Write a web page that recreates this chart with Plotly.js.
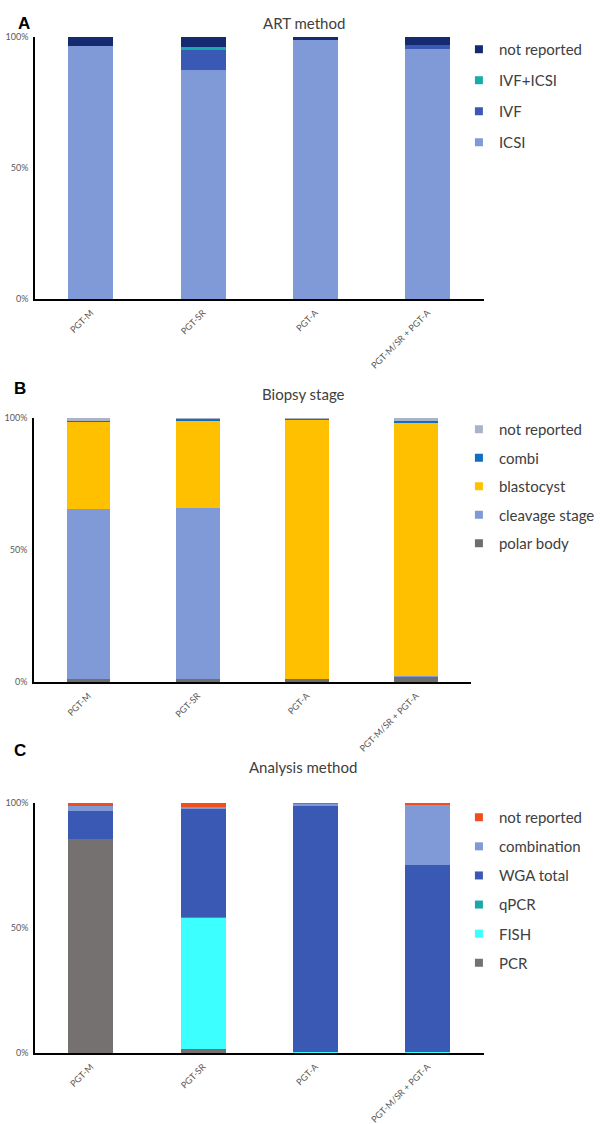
<!DOCTYPE html>
<html>
<head>
<meta charset="utf-8">
<script src="https://cdn.plot.ly/plotly-3.0.1.min.js"></script>
<style>
  html, body { margin: 0; padding: 0; background: #fff; }
  #chart { width: 600px; height: 1124px; }
</style>
</head>
<body>
<div id="chart"></div>
<script>
// ---------- DATA ----------
const categories = ['PGT-M', 'PGT-SR', 'PGT-A', 'PGT-M/SR + PGT-A'];

// Panel A: ART method (%)
const artICSI        = [96.6, 87.4, 98.8, 95.4];
const artIVF         = [0.0, 7.6, 0.0, 1.5];
const artIVFICSI     = [0.0, 1.2, 0.0, 0.0];
const artNotReported = [3.4, 3.8, 1.2, 3.1];

// Panel B: Biopsy stage (%)
const bioPolarBody   = [1.0, 1.2, 1.0, 2.0];
const bioCleavage    = [64.5, 64.8, 0.3, 0.2];
const bioBlastocyst  = [33.0, 33.0, 97.8, 95.8];
const bioCombi       = [0.3, 0.5, 0.6, 0.9];
const bioNotReported = [1.2, 0.5, 0.3, 1.1];

// Panel C: Analysis method (%)
const anaPCR         = [85.5, 1.7, 0.2, 0.0];
const anaFISH        = [0.0, 52.5, 0.3, 0.3];
const anaQPCR        = [0.0, 0.2, 0.0, 0.0];
const anaWGA         = [11.4, 43.1, 98.3, 74.8];
const anaCombination = [1.9, 0.9, 0.7, 24.0];
const anaNotReported = [1.2, 1.6, 0.5, 0.9];

const yTickVals = [0, 50, 100];
const yTickText = ['0%', '50%', '100%'];

// ---------- STYLE ----------
const FONT = 'Lato, "Open Sans", sans-serif';
const TXT = '#404040';

const panels = [
  { ax: '', legend: 'legend', series: [
      ['ICSI', artICSI, '#7f9ad6'],
      ['IVF', artIVF, '#3a59b5'],
      ['IVF+ICSI', artIVFICSI, '#17abab'],
      ['not reported', artNotReported, '#142b72']
  ]},
  { ax: '2', legend: 'legend2', series: [
      ['polar body', bioPolarBody, '#6e6e6e'],
      ['cleavage stage', bioCleavage, '#7f9ad6'],
      ['blastocyst', bioBlastocyst, '#ffc000'],
      ['combi', bioCombi, '#0f6fc0'],
      ['not reported', bioNotReported, '#aab4c8']
  ]},
  { ax: '3', legend: 'legend3', series: [
      ['PCR', anaPCR, '#767171'],
      ['FISH', anaFISH, '#3cffff'],
      ['qPCR', anaQPCR, '#1aa8a8'],
      ['WGA total', anaWGA, '#3a59b5'],
      ['combination', anaCombination, '#7f9ad6'],
      ['not reported', anaNotReported, '#f04e1e']
  ]}
];

const traces = [];
panels.forEach((p, pi) => {
  p.series.forEach((s) => {
    traces.push({
      type: 'bar', name: s[0], x: categories, y: s[1],
      xaxis: 'x' + p.ax, yaxis: 'y' + p.ax,
      marker: { color: s[2], line: { width: 0 } },
      showlegend: false, hoverinfo: 'x+y+name'
    });
  });
  const n = p.series.length;
  p.series.forEach((s, si) => {
    traces.push({
      type: 'scatter', mode: 'markers', name: s[0], x: [null], y: [null],
      xaxis: 'x' + p.ax, yaxis: 'y' + p.ax,
      marker: { symbol: 'square', size: 8, color: s[2] },
      legend: p.legend, legendgroup: 'g' + pi + '_' + si,
      legendrank: (n - si) * 10, showlegend: true
    });
  });
});

const H = 1124, W = 600;
const py = px => 1 - px / H;
const pxX = px => px / W;

function xa(x0, x1, yAnchor) {
  return {
    domain: [pxX(x0), pxX(x1)], anchor: yAnchor, type: 'category',
    showline: true, linecolor: '#000', linewidth: 2,
    ticks: 'outside', ticklen: 3, tickcolor: 'rgba(0,0,0,0)',
    tickangle: -45, tickfont: { family: FONT, size: 9, color: '#595959' },
    showgrid: false, zeroline: false, fixedrange: true
  };
}
function ya(y0, y1, xAnchor) {
  return {
    domain: [py(y1), py(y0)], anchor: xAnchor, range: [0, 100],
    showline: true, linecolor: '#000', linewidth: 1.5,
    tickvals: yTickVals, ticktext: yTickText,
    ticks: 'outside', ticklen: 3, tickcolor: 'rgba(0,0,0,0)',
    tickfont: { family: FONT, size: 9, color: '#595959' },
    showgrid: false, zeroline: false, fixedrange: true
  };
}
function leg(topPx, gap) {
  return {
    x: pxX(462), xanchor: 'left', y: py(topPx), yanchor: 'top',
    bgcolor: 'rgba(0,0,0,0)', borderwidth: 0,
    font: { family: FONT, size: 15, color: TXT },
    traceorder: 'grouped', tracegroupgap: gap, itemclick: false
  };
}

const layout = {
  width: W, height: H,
  margin: { l: 0, r: 0, t: 0, b: 0 },
  paper_bgcolor: '#fff', plot_bgcolor: '#fff',
  barmode: 'stack', bargap: 0.6,
  xaxis: xa(35, 487, 'y'),   yaxis: ya(37, 299, 'x'),
  xaxis2: xa(34, 474, 'y2'), yaxis2: ya(418, 682, 'x2'),
  xaxis3: xa(35, 487, 'y3'), yaxis3: ya(803, 1053, 'x3'),
  legend: leg(33, 8.5),
  legend2: leg(413, 6),
  legend3: leg(801, 6.6),
  annotations: [
    { text: '<b>A</b>', x: pxX(16), y: py(12), xref: 'paper', yref: 'paper', showarrow: false,
      font: { family: 'Liberation Sans, Arial, sans-serif', size: 17, color: '#000' } },
    { text: 'ART method', x: pxX(306), y: py(12), xref: 'paper', yref: 'paper', showarrow: false,
      font: { family: FONT, size: 15, color: TXT } },
    { text: '<b>B</b>', x: pxX(12), y: py(388), xref: 'paper', yref: 'paper', showarrow: false,
      font: { family: 'Liberation Sans, Arial, sans-serif', size: 17, color: '#000' } },
    { text: 'Biopsy stage', x: pxX(306), y: py(394), xref: 'paper', yref: 'paper', showarrow: false,
      font: { family: FONT, size: 15, color: TXT } },
    { text: '<b>C</b>', x: pxX(12), y: py(762), xref: 'paper', yref: 'paper', showarrow: false,
      font: { family: 'Liberation Sans, Arial, sans-serif', size: 17, color: '#000' } },
    { text: 'Analysis method', x: pxX(305), y: py(778), xref: 'paper', yref: 'paper', showarrow: false,
      font: { family: FONT, size: 15, color: TXT } }
  ]
};

Plotly.newPlot('chart', traces, layout, { staticPlot: true, displayModeBar: false });
</script>
</body>
</html>
